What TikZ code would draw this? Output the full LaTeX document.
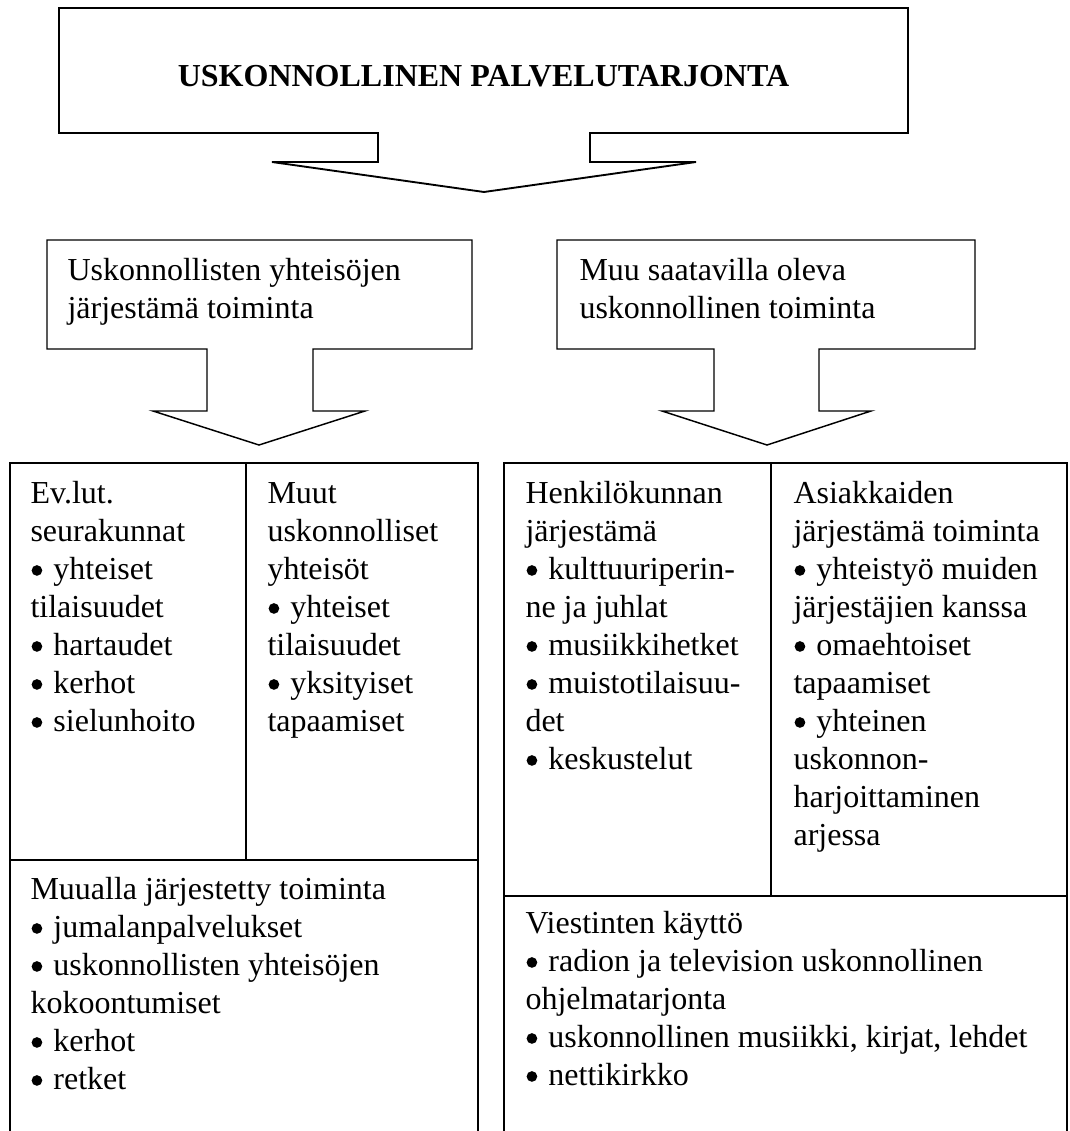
\documentclass[tikz,border=0pt]{standalone}
\usepackage{fontspec}
\setmainfont{Liberation Serif}
\newcommand\ts{\rule{0pt}{9pt}}
\newcommand\bul{\tikz[baseline=0pt,x=1pt,y=1pt]{\useasboundingbox (0,0) rectangle (8.6,1); \fill (2.4,3.4) circle (2.0);}}
\begin{document}
\begin{tikzpicture}[x=0.375pt,y=-0.375pt,
  outline/.style={draw, line width=0.55pt, line join=miter},
  thick outline/.style={draw, line width=0.7pt, line join=miter},
  txt/.style={anchor=north west, inner sep=0pt, align=left, font=\fontsize{12}{14.25}\selectfont}]
\useasboundingbox (0,0) rectangle (1070,1131);

% top callout
\draw[thick outline] (59,8) -- (908,8) -- (908,133) -- (590,133) -- (590,162) -- (696,162)
  -- (484,192) coordinate (toptip) -- (272,162) -- (378,162) -- (378,133) -- (59,133) -- cycle;
\node[anchor=base, inner sep=0pt, font=\fontsize{12}{14.25}\selectfont\bfseries] (title) at (483.5,86)
  {USKONNOLLINEN PALVELUTARJONTA};

% left callout
\draw[outline] (47,240) -- (472,240) -- (472,349) -- (313,349) -- (313,411) -- (365,411)
  -- (259,445) coordinate (lefttip) -- (153,411) -- (207,411) -- (207,349) -- (47,349) -- cycle;
\node[txt] (lefthead) at (67,256) {\ts Uskonnollisten yhteisöjen\\järjestämä toiminta};

% right callout
\draw[outline] (557,240) -- (975,240) -- (975,349) -- (819,349) -- (819,411) -- (871,411)
  -- (767,445) coordinate (righttip) -- (662,411) -- (714,411) -- (714,349) -- (557,349) -- cycle;
\node[txt] (righthead) at (579,256) {\ts Muu saatavilla oleva\\uskonnollinen toiminta};

% left table
\draw[outline] (10,1131) -- (10,463) -- (478,463) -- (478,1131);
\draw[outline] (246,463) -- (246,860);
\draw[outline] (10,860) -- (478,860);
\node[txt] (evlut) at (30,479) {\ts Ev.lut.\\seurakunnat\\\bul yhteiset\\tilaisuudet\\\bul hartaudet\\\bul kerhot\\\bul sielunhoito};
\node[txt] (muut) at (267,479) {\ts Muut\\uskonnolliset\\yhteisöt\\\bul yhteiset\\tilaisuudet\\\bul yksityiset\\tapaamiset};
\node[txt] (muualla) at (30,875) {\ts Muualla järjestetty toiminta\\\bul jumalanpalvelukset\\\bul uskonnollisten yhteisöjen\\kokoontumiset\\\bul kerhot\\\bul retket};

% right table
\draw[outline] (504,1131) -- (504,463) -- (1067,463) -- (1067,1131);
\draw[outline] (771,463) -- (771,896);
\draw[outline] (504,896) -- (1067,896);
\node[txt] (henk) at (525,479) {\ts Henkilökunnan\\järjestämä\\\bul kulttuuriperin-\\ne ja juhlat\\\bul musiikkihetket\\\bul muistotilaisuu-\\det\\\bul keskustelut};
\node[txt] (asiak) at (793,479) {\ts Asiakkaiden\\järjestämä toiminta\\\bul yhteistyö muiden\\järjestäjien kanssa\\\bul omaehtoiset\\tapaamiset\\\bul yhteinen\\uskonnon-\\harjoittaminen\\arjessa};
\node[txt] (viest) at (525,909) {\ts Viestinten käyttö\\\bul radion ja television uskonnollinen\\ohjelmatarjonta\\\bul uskonnollinen musiikki, kirjat, lehdet\\\bul nettikirkko};
\end{tikzpicture}
\end{document}
